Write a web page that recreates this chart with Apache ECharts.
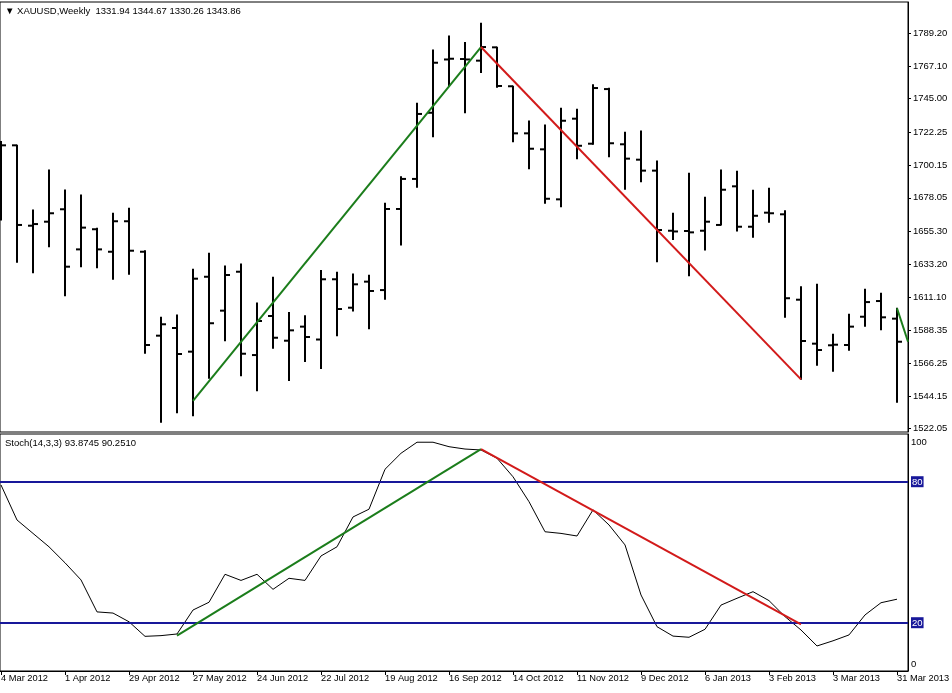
<!DOCTYPE html>
<html>
<head>
<meta charset="utf-8">
<script src="https://cdn.jsdelivr.net/npm/echarts@6/dist/echarts.min.js"></script>
<style>
html,body{margin:0;padding:0;background:#fff;}
#chart{width:952px;height:693px;}
</style>
</head>
<body>
<div id="chart"></div>
<script>
// ---- data (weekly XAUUSD bars, index 0 = week of 4 Mar 2012) ----
const dateLabels = ['4 Mar 2012','1 Apr 2012','29 Apr 2012','27 May 2012','24 Jun 2012','22 Jul 2012','19 Aug 2012','16 Sep 2012','14 Oct 2012','11 Nov 2012','9 Dec 2012','6 Jan 2013','3 Feb 2013','3 Mar 2013','31 Mar 2013'];
const priceTicks = [1522.05,1544.15,1566.25,1588.35,1611.10,1633.20,1655.30,1678.05,1700.15,1722.25,1745.00,1767.10,1789.20];
const stochTicks = [0,20,80,100];

const open  = [1707.0,1713.5,1659.2,1661.9,1670.3,1643.2,1656.8,1641.6,1662.2,1641.6,1584.9,1590.1,1574.1,1624.7,1601.8,1628.1,1571.8,1598.2,1581.5,1591.0,1582.3,1623.0,1603.8,1621.4,1615.7,1670.5,1690.8,1735.5,1771.5,1771.8,1770.7,1779.7,1753.4,1721.6,1710.8,1677.0,1731.5,1714.6,1751.5,1714.2,1703.8,1696.4,1655.8,1655.6,1655.8,1659.7,1685.8,1658.5,1668.0,1666.9,1609.2,1579.5,1578.4,1578.6,1597.7,1608.3,1596.4];
const high  = [1716.0,1713.5,1669.8,1696.8,1683.3,1679.9,1657.4,1667.6,1671.0,1642.3,1597.3,1598.9,1629.7,1640.5,1632.0,1633.3,1607.0,1624.3,1600.6,1598.4,1628.9,1627.7,1626.6,1625.7,1674.3,1692.3,1741.9,1777.9,1787.4,1783.0,1795.9,1779.7,1753.4,1729.9,1727.2,1738.5,1737.9,1754.4,1752.0,1722.3,1723.2,1702.9,1667.6,1694.6,1678.4,1696.8,1695.9,1683.1,1684.5,1669.3,1618.0,1619.6,1585.9,1599.3,1616.2,1613.5,1603.4];
const low   = [1663.1,1634.5,1627.4,1645.0,1611.9,1631.5,1630.8,1623.0,1626.4,1573.0,1526.4,1532.9,1530.8,1556.1,1581.5,1557.9,1547.7,1576.4,1554.6,1567.4,1562.7,1584.9,1601.6,1589.6,1609.5,1646.2,1685.2,1719.3,1753.2,1735.5,1762.7,1752.7,1715.9,1697.7,1674.3,1672.0,1704.5,1714.2,1705.8,1683.8,1688.9,1634.9,1649.9,1625.4,1642.8,1659.7,1655.6,1651.4,1661.5,1597.3,1555.4,1564.9,1560.8,1575.0,1591.2,1588.9,1539.9];
const close = [1713.5,1659.7,1660.3,1667.6,1631.5,1657.9,1643.2,1662.2,1642.3,1578.6,1592.6,1572.5,1623.4,1593.3,1625.9,1572.7,1594.8,1583.5,1588.5,1584.0,1623.0,1602.9,1619.6,1615.1,1670.5,1690.8,1734.7,1769.3,1772.0,1771.5,1779.9,1753.6,1721.6,1711.2,1677.4,1730.1,1713.2,1752.2,1714.9,1704.5,1696.4,1656.3,1655.3,1654.7,1661.9,1683.5,1658.5,1665.9,1667.6,1610.2,1581.3,1575.2,1578.8,1591.0,1607.6,1597.3,1580.8];
const stoch = [78.6,63.7,58.0,52.3,45.5,38.2,24.6,24.1,20.4,14.2,14.5,15.2,25.4,28.7,40.6,38.0,40.6,34.2,38.9,38.0,48.4,52.3,65.0,68.3,85.3,92.1,96.8,96.8,94.9,93.9,93.5,90.0,82.1,71.5,58.7,58.0,56.9,68.0,61.6,53.1,31.8,18.3,14.3,13.8,17.2,27.5,30.4,33.2,29.4,22.6,16.9,10.1,12.3,14.8,23.3,28.5,30.0];
const stochLevels = [20, 80];

// trend lines drawn on the chart: [barIndex, value]
const priceUpLine   = [[12,1540.8],[30,1779.9]];
const priceDownLine = [[30,1779.9],[50,1555.4]];
const priceLastLine = [[56,1603.4],[56.69,1580.8]];
const stochUpLine   = [[11,14.5],[30,93.9]];
const stochDownLine = [[30,93.9],[50,19.3]];

const headerMain  = '\u25BC XAUUSD,Weekly  1331.94 1344.67 1330.26 1343.86';
const headerStoch = 'Stoch(14,3,3) 93.8745 90.2510';

// ---- build ----
const ohlc = open.map((o, i) => [i, o, high[i], low[i], close[i]]);
const stochData = stoch.map((v, i) => [i, v]);
const labelIdx = dateLabels.map((d, k) => k * 4);

const FONT = 'Liberation Sans';
const GREEN = '#1b7d1b';
const RED = '#d21a1a';
const LEVEL = '#18189a';

const chart = echarts.init(document.getElementById('chart'), null, {renderer: 'canvas'});

const xMin = -1 / 16, xMax = 56.6875;

chart.setOption({
  animation: false,
  backgroundColor: '#fff',
  textStyle: {fontFamily: FONT},
  title: [
    {text: headerMain, left: 5, top: 6, padding: 0, textStyle: {fontSize: 9.5, fontWeight: 'normal', color: '#000', fontFamily: FONT}},
    {text: headerStoch, left: 5, top: 438, padding: 0, textStyle: {fontSize: 9.5, fontWeight: 'normal', color: '#000', fontFamily: FONT}}
  ],
  grid: [
    {left: 0, top: 2, width: 908, height: 430, show: true, borderColor: '#000', borderWidth: 1, backgroundColor: 'transparent', containLabel: false, outerBoundsMode: 'none'},
    {left: 0, top: 434, width: 908, height: 237, show: true, borderColor: '#000', borderWidth: 1, backgroundColor: 'transparent', containLabel: false, outerBoundsMode: 'none'}
  ],
  xAxis: [
    {type: 'value', gridIndex: 0, min: xMin, max: xMax, axisLine: {show: false, onZero: false}, axisTick: {show: false}, axisLabel: {show: false}, splitLine: {show: false}},
    {type: 'value', gridIndex: 1, min: xMin, max: xMax,
      axisLine: {show: true, onZero: false, lineStyle: {color: '#000', width: 1}},
      axisTick: {show: true, length: 4, customValues: labelIdx, lineStyle: {color: '#000'}},
      axisLabel: {show: true, customValues: labelIdx, align: 'left', margin: 3, fontSize: 9.3, color: '#000', fontFamily: FONT,
        formatter: v => dateLabels[Math.round(v / 4)] || ''},
      splitLine: {show: false}}
  ],
  yAxis: [
    {type: 'value', gridIndex: 0, position: 'right', min: 1519.82, max: 1810.33,
      axisLine: {show: true, onZero: false, lineStyle: {color: '#000'}},
      axisTick: {show: true, length: 3, customValues: priceTicks, lineStyle: {color: '#000'}},
      axisLabel: {show: true, customValues: priceTicks, margin: 5, fontSize: 9.5, color: '#000', fontFamily: FONT,
        formatter: v => Number(v).toFixed(2)},
      splitLine: {show: false}},
    {type: 'value', gridIndex: 1, position: 'right', min: -0.55, max: 100.3,
      axisLine: {show: true, onZero: false, lineStyle: {color: '#000'}},
      axisTick: {show: false},
      axisLabel: {show: true, customValues: stochTicks, margin: 3, fontSize: 9.5, color: '#000', fontFamily: FONT,
        formatter: v => {
          const r = Math.round(v);
          if (r === 100) return '{top|100}';
          if (r === 0) return '{bot|0}';
          return '{lv|' + r + '}';
        },
        rich: {
          top: {padding: [16, 0, 0, 0], fontSize: 9.5, color: '#000', fontFamily: FONT},
          bot: {padding: [0, 0, 11, 0], fontSize: 9.5, color: '#000', fontFamily: FONT},
          lv: {backgroundColor: LEVEL, color: '#fff', fontSize: 9.5, padding: [1, 1, 0, 1], fontFamily: FONT}
        }},
      splitLine: {show: false}}
  ],
  series: [
    {
      type: 'custom', xAxisIndex: 0, yAxisIndex: 0, data: ohlc, clip: true,
      encode: {x: 0, y: [1, 2, 3, 4]},
      renderItem: (params, api) => {
        const i = api.value(0);
        const o = api.coord([i, api.value(1)]);
        const h = api.coord([i, api.value(2)]);
        const l = api.coord([i, api.value(3)]);
        const c = api.coord([i, api.value(4)]);
        const x = h[0];
        const st = {stroke: '#000', lineWidth: 2};
        return {type: 'group', children: [
          {type: 'line', shape: {x1: x, y1: h[1] - 0.5, x2: x, y2: l[1] + 0.5}, style: st},
          {type: 'line', shape: {x1: x - 5, y1: o[1], x2: x, y2: o[1]}, style: st},
          {type: 'line', shape: {x1: x, y1: c[1], x2: x + 5, y2: c[1]}, style: st}
        ]};
      }
    },
    {type: 'line', xAxisIndex: 0, yAxisIndex: 0, data: priceUpLine, symbol: 'none', lineStyle: {color: GREEN, width: 2}, z: 5},
    {type: 'line', xAxisIndex: 0, yAxisIndex: 0, data: priceDownLine, symbol: 'none', lineStyle: {color: RED, width: 2}, z: 5},
    {type: 'line', xAxisIndex: 0, yAxisIndex: 0, data: priceLastLine, symbol: 'none', lineStyle: {color: GREEN, width: 2}, z: 5},
    {type: 'line', xAxisIndex: 1, yAxisIndex: 1, data: stochData, symbol: 'none', lineStyle: {color: '#000', width: 1}, z: 3,
      markLine: {silent: true, symbol: 'none', label: {show: false},
        lineStyle: {color: LEVEL, width: 2, type: 'solid'},
        data: stochLevels.map(v => ({yAxis: v}))}},
    {type: 'line', xAxisIndex: 1, yAxisIndex: 1, data: stochUpLine, symbol: 'none', lineStyle: {color: GREEN, width: 2}, z: 5},
    {type: 'line', xAxisIndex: 1, yAxisIndex: 1, data: stochDownLine, symbol: 'none', lineStyle: {color: RED, width: 2}, z: 5}
  ]
});
</script>
</body>
</html>
